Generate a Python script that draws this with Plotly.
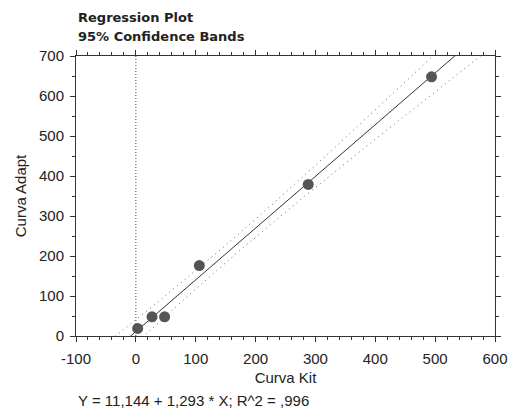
import numpy as np
import plotly.graph_objects as go

# Data
curva_kit = [3, 27, 48, 106, 288, 494]
curva_adapt = [19, 48, 48, 176, 379, 648]

# Regression coefficients printed under the chart
intercept = 11.144
slope = 1.293
r2_text = "Y = 11,144 + 1,293 * X; R^2 = ,996"

x_ticks = [-100, 0, 100, 200, 300, 400, 500, 600]
x_ticklabels = ["-100", "0", "100", "200", "300", "400", "500", "600"]
y_ticks = [0, 100, 200, 300, 400, 500, 600, 700]

# Confidence band (95%) for the mean response, derived from the data
xk = np.array(curva_kit, dtype=float)
yk = np.array(curva_adapt, dtype=float)
n = len(xk)
resid = yk - (intercept + slope * xk)
s = np.sqrt(np.sum(resid ** 2) / (n - 2))
sxx = np.sum((xk - xk.mean()) ** 2)
t_crit = 2.776  # t(0.975, df=4)
xg = np.linspace(-100, 600, 300)
yfit = intercept + slope * xg
half = t_crit * s * np.sqrt(1.0 / n + (xg - xk.mean()) ** 2 / sxx)

font = "Liberation Sans, Arial, sans-serif"
tfont = "DejaVu Sans, sans-serif"
dark = "#222222"

fig = go.Figure()
fig.add_trace(go.Scatter(x=[0, 0], y=[0, 700], mode="lines",
                         line=dict(color="#444444", width=1, dash="1px,2px"),
                         hoverinfo="skip"))
fig.add_trace(go.Scatter(x=xg, y=yfit + half, mode="lines",
                         line=dict(color="#666666", width=1, dash="1px,4px")))
fig.add_trace(go.Scatter(x=xg, y=yfit - half, mode="lines",
                         line=dict(color="#666666", width=1, dash="1px,4px")))
fig.add_trace(go.Scatter(x=xg, y=yfit, mode="lines",
                         line=dict(color="#333333", width=1)))
fig.add_trace(go.Scatter(x=curva_kit, y=curva_adapt, mode="markers",
                         marker=dict(color="#555555", size=11)))

axis_common = dict(
    showgrid=False, zeroline=False, showline=True, linecolor="#333333",
    linewidth=1, mirror="allticks", ticks="outside", ticklen=5,
    tickcolor="#333333", tickwidth=1,
    tickfont=dict(family=font, size=15, color=dark),
)

# The page has an 8px body margin, so the figure is 8px smaller each way
fig.update_layout(
    width=514, height=401,
    margin=dict(l=68, r=27, t=48, b=73),
    paper_bgcolor="white", plot_bgcolor="white",
    showlegend=False,
    xaxis=dict(range=[-100, 600], tickvals=x_ticks, ticktext=x_ticklabels,
               ticklabelstandoff=4,
               minor=dict(ticks="outside", dtick=20, ticklen=3,
                          tickcolor="#333333"),
               title=dict(text="Curva Kit", standoff=6,
                          font=dict(family=font, size=15, color=dark)),
               **axis_common),
    yaxis=dict(range=[0, 700], tickvals=y_ticks, ticklabelstandoff=3,
               minor=dict(ticks="outside", dtick=50, ticklen=3,
                          tickcolor="#333333"),
               title=dict(text="Curva Adapt", standoff=8,
                          font=dict(family=font, size=15, color=dark)),
               **axis_common),
    annotations=[
        dict(text="<b>Regression Plot</b>", xref="paper", yref="paper",
             x=0, y=1.139, xanchor="left", yanchor="middle", showarrow=False,
             font=dict(family=tfont, size=13, color=dark)),
        dict(text="<b>95% Confidence Bands</b>", xref="paper", yref="paper",
             x=0, y=1.068, xanchor="left", yanchor="middle", showarrow=False,
             font=dict(family=tfont, size=13, color=dark)),
        dict(text=r2_text, xref="paper", yref="paper",
             x=0, y=-0.232, xanchor="left", yanchor="middle", showarrow=False,
             font=dict(family=font, size=15, color=dark)),
    ],
)

fig.write_html("out.html")
